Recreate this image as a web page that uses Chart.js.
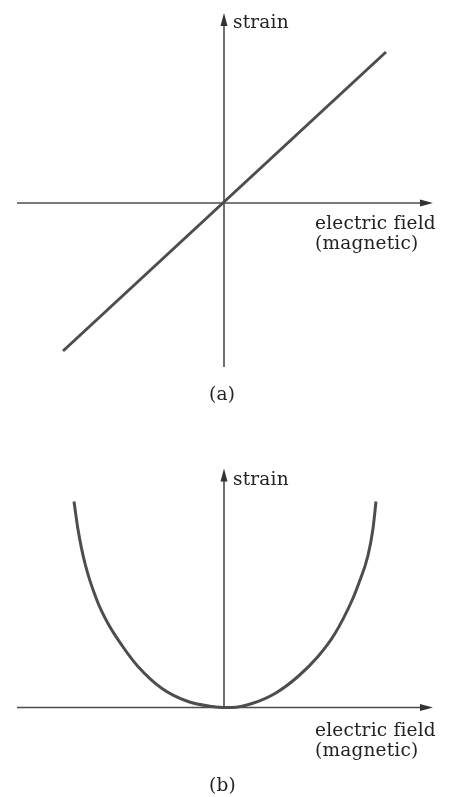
<!DOCTYPE html>
<html>
<head>
<meta charset="utf-8">
<script src="https://cdn.jsdelivr.net/npm/chart.js@4/dist/chart.umd.min.js"></script>
<style>
  html, body { margin:0; padding:0; background:#fff; }
  body { width:450px; height:797px; position:relative; overflow:hidden; font-family:"DejaVu Serif", serif; color:#222; }
  .box { position:absolute; left:0; width:450px; }
  .lbl { position:absolute; font-size:18.5px; line-height:20px; letter-spacing:0.2px; white-space:nowrap; }
</style>
</head>
<body>
<div class="box" style="top:0;height:400px"><canvas id="chartA"></canvas></div>
<div class="box" style="top:420px;height:377px"><canvas id="chartB"></canvas></div>

<div class="lbl" style="left:233px;top:12px">strain</div>
<div class="lbl" style="left:315px;top:213px">electric field</div>
<div class="lbl" style="left:315px;top:233px">(magnetic)</div>
<div class="lbl" style="left:209px;top:384px">(a)</div>

<div class="lbl" style="left:233px;top:469px">strain</div>
<div class="lbl" style="left:315px;top:720px">electric field</div>
<div class="lbl" style="left:315px;top:740px">(magnetic)</div>
<div class="lbl" style="left:209px;top:775px">(b)</div>

<script>
'use strict';

// (a) linear response, units = 100 px from origin
const fieldA  = [-1.61, 1.62];
const strainA = [-1.48, 1.51];

// (b) even response
const fieldB  = [-1.50, -1.46, -1.39, -1.27, -1.16, -1.02, -0.86, -0.62, -0.36, -0.12, 0, 0.08, 0.28, 0.51, 0.74, 0.94, 1.11, 1.28, 1.34, 1.44, 1.49, 1.52];
const strainB = [ 2.06,  1.78,  1.44,  1.07,  0.84,  0.62,  0.41,  0.19,  0.06,  0.01, 0, 0.00, 0.04, 0.14, 0.31, 0.51, 0.74, 1.07, 1.22, 1.52, 1.79, 2.06];

// axis extents [xmin, xmax, ymin, ymax]
const axesA = [-2.07, 2.09, -1.64, 1.90];
const axesB = [-2.07, 2.09,  0.00, 2.39];

const INK = '#4d4d4d';

const axisArrows = {
    id:'axisArrows',
    beforeDatasetsDraw(chart, args, opts){
        const { ctx, scales:{ x, y } } = chart;
        const [x0, x1, y0, y1] = opts.ext;
        const ox = x.getPixelForValue(0), oy = y.getPixelForValue(0);
        const L = x.getPixelForValue(x0), R = x.getPixelForValue(x1);
        const B = y.getPixelForValue(y0), T = y.getPixelForValue(y1);
        ctx.save();
        ctx.strokeStyle = INK; ctx.fillStyle = '#333'; ctx.lineWidth = 1.6;
        ctx.beginPath();
        ctx.moveTo(L, oy); ctx.lineTo(R - 8, oy);
        ctx.moveTo(ox, B); ctx.lineTo(ox, T + 8);
        ctx.stroke();
        ctx.beginPath();
        ctx.moveTo(R, oy); ctx.lineTo(R - 13, oy - 3.5); ctx.lineTo(R - 13, oy + 3.5); ctx.closePath();
        ctx.moveTo(ox, T); ctx.lineTo(ox - 3.5, T + 13); ctx.lineTo(ox + 3.5, T + 13); ctx.closePath();
        ctx.fill();
        ctx.restore();
    }
};

function makeChart(id, xs, ys, ext, xr, yr, smooth){
    return new Chart(document.getElementById(id).getContext('2d'), {
        type:'scatter',
        data:{ datasets:[{
            data: xs.map((v, i) => ({ x:v, y:ys[i] })),
            showLine:true, borderColor:INK, borderWidth:3, pointRadius:0,
            borderCapStyle:'butt', cubicInterpolationMode: smooth ? 'monotone' : 'default'
        }]},
        options:{
            responsive:true, maintainAspectRatio:false, animation:false,
            layout:{ padding:0 },
            plugins:{ legend:{ display:false }, tooltip:{ enabled:false }, axisArrows:{ ext } },
            scales:{
                x:{ type:'linear', display:false, min:xr[0], max:xr[1] },
                y:{ type:'linear', display:false, min:yr[0], max:yr[1] }
            }
        },
        plugins:[axisArrows]
    });
}

makeChart('chartA', fieldA, strainA, axesA, [-2.24, 2.26], [-1.97, 2.03], false);
makeChart('chartB', fieldB, strainB, axesB, [-2.24, 2.26], [-0.895, 2.875], true);
</script>
</body>
</html>
